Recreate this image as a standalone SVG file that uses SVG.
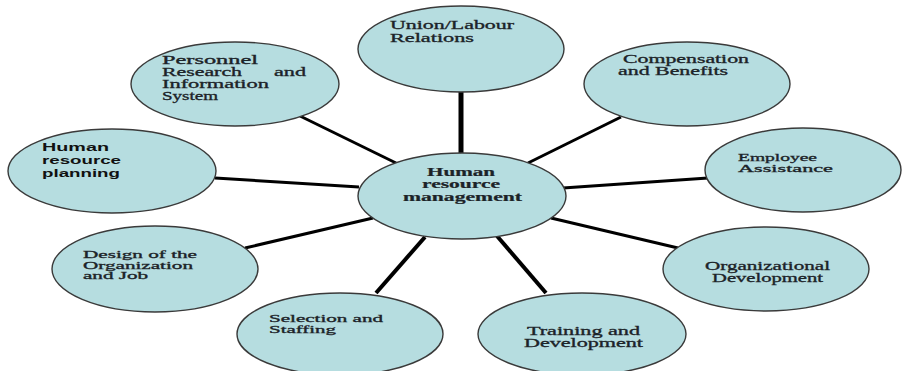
<svg xmlns="http://www.w3.org/2000/svg" width="902" height="371" viewBox="0 0 902 371">
<style>
.node ellipse{fill:#b6dde0;stroke:#3a3a3a;stroke-width:1.4}
.t{font-family:"Liberation Serif","Times New Roman",serif;font-size:11.5px;fill:#1c2328;stroke:#1c2328;stroke-width:0.3}
.sm{font-size:10px}
.b{font-weight:bold;stroke-width:0.2}
.s{font-family:"Liberation Sans",Arial,sans-serif;font-size:11.5px;font-weight:bold;fill:#111}
#connectors line{stroke:#000;stroke-width:3;stroke-linecap:butt}
</style>
<rect width="902" height="371" fill="#fff"/>
<g id="connectors">
<line x1="461" y1="91" x2="461" y2="154" style="stroke-width:5"/>
<line x1="300" y1="116" x2="396" y2="163"/>
<line x1="621" y1="117" x2="528" y2="163"/>
<line x1="215" y1="178" x2="359" y2="187"/>
<line x1="708" y1="178" x2="563" y2="188"/>
<line x1="245" y1="248" x2="373" y2="218"/>
<line x1="678" y1="248" x2="551" y2="218"/>
<line x1="376" y1="293" x2="425" y2="237" style="stroke-width:4"/>
<line x1="546" y1="293" x2="497" y2="236" style="stroke-width:4"/>
</g>
<g id="n-union" class="node">
<ellipse cx="461" cy="49" rx="103" ry="43"/>
<text class="t" x="390" y="29" textLength="124" lengthAdjust="spacingAndGlyphs">Union/Labour</text>
<text class="t" x="390" y="42" textLength="84" lengthAdjust="spacingAndGlyphs">Relations</text>
</g>
<g id="n-personnel" class="node">
<ellipse cx="235" cy="84" rx="104" ry="42"/>
<text class="t" x="162" y="64" textLength="96" lengthAdjust="spacingAndGlyphs">Personnel</text>
<text class="t" x="162" y="76" textLength="80" lengthAdjust="spacingAndGlyphs">Research</text>
<text class="t" x="274" y="76" textLength="32" lengthAdjust="spacingAndGlyphs">and</text>
<text class="t" x="162" y="88" textLength="107" lengthAdjust="spacingAndGlyphs">Information</text>
<text class="t" x="162" y="100" textLength="56" lengthAdjust="spacingAndGlyphs">System</text>
</g>
<g id="n-compensation" class="node">
<ellipse cx="687" cy="84" rx="103" ry="42"/>
<text class="t" x="623" y="63" textLength="126" lengthAdjust="spacingAndGlyphs">Compensation</text>
<text class="t" x="618" y="75" textLength="110" lengthAdjust="spacingAndGlyphs">and Benefits</text>
</g>
<g id="n-hrp" class="node">
<ellipse cx="112" cy="171" rx="104" ry="42"/>
<text class="s" x="42" y="151" textLength="67" lengthAdjust="spacingAndGlyphs">Human</text>
<text class="s" x="42" y="164" textLength="79" lengthAdjust="spacingAndGlyphs">resource</text>
<text class="s" x="42" y="177" textLength="78" lengthAdjust="spacingAndGlyphs">planning</text>
</g>
<g id="n-employee" class="node">
<ellipse cx="803" cy="170" rx="98" ry="42"/>
<text class="t sm" x="738" y="161" textLength="79" lengthAdjust="spacingAndGlyphs">Employee</text>
<text class="t sm" x="738" y="172" textLength="95" lengthAdjust="spacingAndGlyphs">Assistance</text>
</g>
<g id="n-center" class="node">
<ellipse cx="462" cy="196" rx="104" ry="43"/>
<text class="t b" x="427" y="176" textLength="68" lengthAdjust="spacingAndGlyphs">Human</text>
<text class="t b" x="422" y="188" textLength="78" lengthAdjust="spacingAndGlyphs">resource</text>
<text class="t b" x="403" y="201" textLength="119" lengthAdjust="spacingAndGlyphs">management</text>
</g>
<g id="n-design" class="node">
<ellipse cx="155" cy="269" rx="103" ry="43"/>
<text class="t sm" x="83" y="258" textLength="114" lengthAdjust="spacingAndGlyphs">Design of the</text>
<text class="t sm" x="83" y="268.5" textLength="110" lengthAdjust="spacingAndGlyphs">Organization</text>
<text class="t sm" x="83" y="279" textLength="65" lengthAdjust="spacingAndGlyphs">and Job</text>
</g>
<g id="n-orgdev" class="node">
<ellipse cx="766" cy="269" rx="103" ry="42"/>
<text class="t" x="705" y="270" textLength="125" lengthAdjust="spacingAndGlyphs">Organizational</text>
<text class="t" x="712" y="282" textLength="111" lengthAdjust="spacingAndGlyphs">Development</text>
</g>
<g id="n-selection" class="node">
<ellipse cx="340" cy="334" rx="103" ry="41"/>
<text class="t sm" x="269" y="322" textLength="114" lengthAdjust="spacingAndGlyphs">Selection and</text>
<text class="t sm" x="269" y="333" textLength="67" lengthAdjust="spacingAndGlyphs">Staffing</text>
</g>
<g id="n-training" class="node">
<ellipse cx="582" cy="334" rx="104" ry="41"/>
<text class="t" x="527" y="335" textLength="113" lengthAdjust="spacingAndGlyphs">Training and</text>
<text class="t" x="524" y="347" textLength="119" lengthAdjust="spacingAndGlyphs">Development</text>
</g>
</svg>
